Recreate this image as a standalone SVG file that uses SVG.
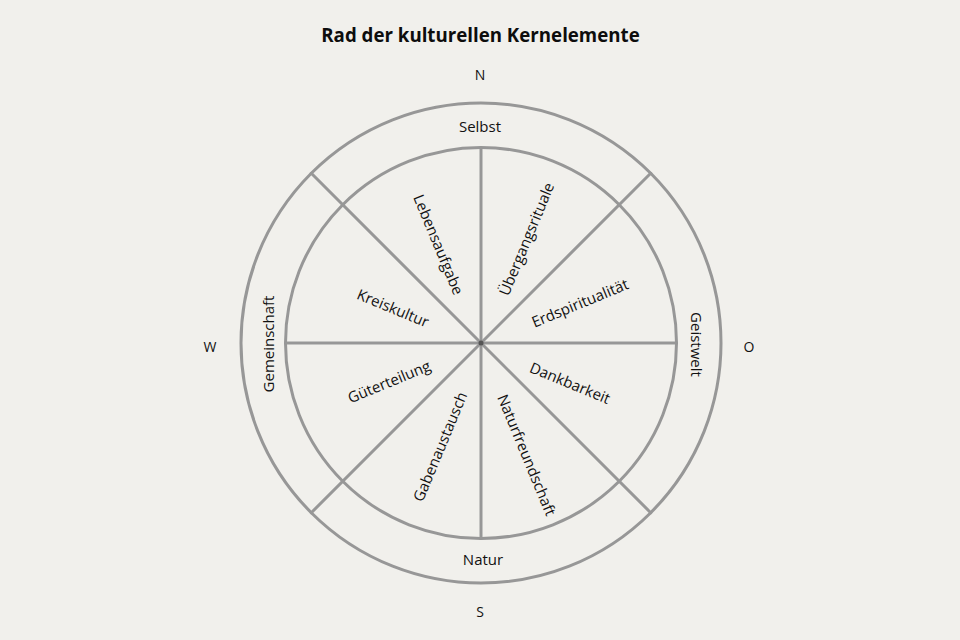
<svg xmlns="http://www.w3.org/2000/svg" width="960" height="640" viewBox="0 0 960 640">
<style>
  .ln{stroke:#979797;stroke-width:3;fill:none;stroke-linecap:round}
  .t{font-family:"Open Sans","Liberation Sans",sans-serif;font-size:15px;fill:#111;text-anchor:middle}
  .d{font-family:"Open Sans","Liberation Sans",sans-serif;font-size:14px;fill:#111;text-anchor:middle}
  .title{font-family:"Open Sans","Liberation Sans",sans-serif;font-size:18.7px;font-weight:bold;fill:#0d0d0d;text-anchor:middle}
</style>
<rect x="0" y="0" width="960" height="640" fill="#f1f0ec"/>
<text class="title" x="480.5" y="42">Rad der kulturellen Kernelemente</text>
<g id="compass">
  <text class="d" x="480" y="80">N</text>
  <text class="d" x="480" y="617">S</text>
  <text class="d" x="210" y="352">W</text>
  <text class="d" x="749" y="352">O</text>
</g>
<g id="connectors">
  <circle class="ln" cx="481" cy="343" r="240"/>
  <circle class="ln" cx="481" cy="343" r="195.5"/>
  <line class="ln" x1="481" y1="147.5" x2="481" y2="538.5"/>
  <line class="ln" x1="285.5" y1="343" x2="676.5" y2="343"/>
  <line class="ln" x1="311.3" y1="173.3" x2="650.7" y2="512.7"/>
  <line class="ln" x1="650.7" y1="173.3" x2="311.3" y2="512.7"/>
  <circle cx="481" cy="343" r="2.5" fill="#555"/>
</g>
<g id="selbst"><text class="t" x="480" y="132">Selbst</text></g>
<g id="natur"><text class="t" x="483" y="565">Natur</text></g>
<g id="gemeinschaft"><text class="t" transform="translate(269,344) rotate(-90)" y="5.4">Gemeinschaft</text></g>
<g id="geistwelt"><text class="t" transform="translate(696.5,344.5) rotate(90)" y="5.4">Geistwelt</text></g>
<g id="lebensaufgabe"><text class="t" transform="translate(438.5,244.5) rotate(67.5)" y="5.4">Lebensaufgabe</text></g>
<g id="uebergangsrituale"><text class="t" transform="translate(526.5,239) rotate(-67.5)" y="5.4">Übergangsrituale</text></g>
<g id="kreiskultur"><text class="t" transform="translate(393,308) rotate(22.5)" y="5.4">Kreiskultur</text></g>
<g id="erdspiritualitaet"><text class="t" transform="translate(580,303) rotate(-22.5)" y="5.4">Erdspiritualität</text></g>
<g id="gueterteilung"><text class="t" transform="translate(389,381.7) rotate(-22.5)" y="5.4">Güterteilung</text></g>
<g id="dankbarkeit"><text class="t" transform="translate(570,383) rotate(22.5)" y="5.4">Dankbarkeit</text></g>
<g id="gabenaustausch"><text class="t" transform="translate(440,446.7) rotate(-67.5)" y="5.4">Gabenaustausch</text></g>
<g id="naturfreundschaft"><text class="t" transform="translate(526.7,455) rotate(67.5)" y="5.4">Naturfreundschaft</text></g>
</svg>
